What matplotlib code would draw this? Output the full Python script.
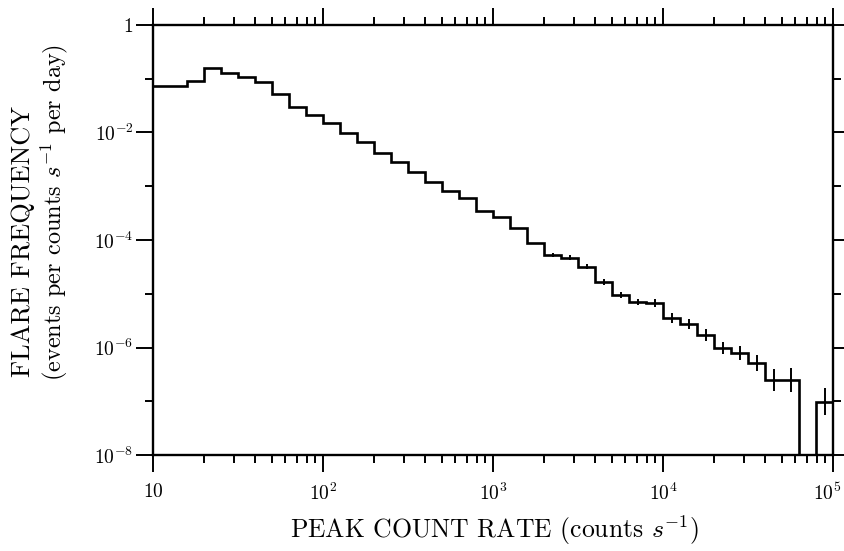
import numpy as np
import matplotlib
matplotlib.use("Agg")
import matplotlib.pyplot as plt
import matplotlib.transforms as mtransforms
from matplotlib.ticker import FixedLocator, NullFormatter

plt.rcParams['font.family'] = 'serif'
plt.rcParams['font.serif'] = ['cmr10', 'DejaVu Serif']
plt.rcParams['mathtext.fontset'] = 'cm'
plt.rcParams['axes.unicode_minus'] = False

# bin edges in log10(counts/s), 0.1 dex bins from 10 to 1e5
log_edges = np.linspace(1.0, 5.0, 41)

# flare frequency per bin (0 = empty bin)
freq = [7.3e-2, 7.3e-2, 9.1e-2, 1.58e-1, 1.29e-1, 1.07e-1, 8.7e-2, 5.25e-2,
        2.95e-2, 2.14e-2, 1.51e-2, 9.8e-3, 6.6e-3, 4.2e-3, 2.8e-3, 1.86e-3,
        1.2e-3, 8.1e-4, 6.0e-4, 3.5e-4, 2.7e-4, 1.66e-4, 8.7e-5, 5.2e-5,
        4.7e-5, 3.2e-5, 1.66e-5, 9.5e-6, 7.1e-6, 6.8e-6, 3.5e-6, 2.75e-6,
        1.7e-6, 9.8e-7, 7.9e-7, 5.1e-7, 2.5e-7, 2.5e-7, 0.0, 9.8e-8]

# error bar half length (dex) per bin, 0 = no visible bar
err_dex = [0, 0, 0, 0, 0, 0, 0, 0, 0, 0,
           0, 0, 0, 0, 0, 0, 0, 0, 0, 0,
           0, 0, 0, 0.04, 0.05, 0.05, 0.06, 0.06, 0.06, 0.07,
           0.09, 0.10, 0.11, 0.12, 0.13, 0.15, 0.20, 0.22, 0, 0.25]

x_major = [1e1, 1e2, 1e3, 1e4, 1e5]
x_labels = ['$\\mathbf{10}$', '$\\mathbf{10^2}$', '$\\mathbf{10^3}$',
            '$\\mathbf{10^4}$', '$\\mathbf{10^5}$']
y_major = [1e-8, 1e-6, 1e-4, 1e-2, 1]
y_labels = ['$\\mathbf{10^{-8}}$', '$\\mathbf{10^{-6}}$', '$\\mathbf{10^{-4}}$',
            '$\\mathbf{10^{-2}}$', '$\\mathbf{1}$']
y_minor = [1e-7, 1e-5, 1e-3, 1e-1]

edges = 10 ** log_edges
freq = np.array(freq)
err_dex = np.array(err_dex)
plot_freq = np.where(freq > 0, freq, 1e-12)

fig = plt.figure(figsize=(8.45, 5.51), dpi=100)
ax = fig.add_axes([0.181, 0.174, 0.805, 0.781])

ax.stairs(plot_freq, edges, color='black', lw=1.9, baseline=None)

centers = np.sqrt(edges[:-1] * edges[1:])
m = err_dex > 0
lo = freq[m] - freq[m] * 10 ** (-err_dex[m])
hi = freq[m] * 10 ** err_dex[m] - freq[m]
ax.errorbar(centers[m], freq[m], yerr=[lo, hi], fmt='none', ecolor='black',
            elinewidth=1.4, capsize=0)

ax.set_xscale('log')
ax.set_yscale('log')
ax.set_xlim(10, 1e5)
ax.set_ylim(1e-8, 1)

ax.set_xticks(x_major)
ax.set_xticklabels(x_labels)
ax.set_yticks(y_major)
ax.set_yticklabels(y_labels)
ax.yaxis.set_minor_locator(FixedLocator(y_minor))
ax.yaxis.set_minor_formatter(NullFormatter())
ax.xaxis.set_minor_formatter(NullFormatter())

ax.tick_params(which='both', direction='out', top=True, right=True,
               labeltop=False, labelright=False, width=1.4, labelsize=14)
ax.tick_params(which='major', length=12)
ax.tick_params(which='minor', length=6)
ax.tick_params(axis='x', pad=8)
ax.tick_params(axis='y', pad=2)
for s in ax.spines.values():
    s.set_linewidth(1.7)

# last x label sits at the right edge; nudge it so it stays in the picture
last = ax.get_xticklabels()[-1]
last.set_transform(last.get_transform() +
                   mtransforms.ScaledTranslation(-6 / 100, 0, fig.dpi_scale_trans))

fig.text(0.027, 0.561, 'FLARE FREQUENCY', rotation=90, ha='center',
         va='center', fontsize=19)
fig.text(0.064, 0.615, '(events per counts $s^{-1}$ per day)', rotation=90,
         ha='center', va='center', fontsize=17.5)
fig.text(0.585, 0.038, 'PEAK COUNT RATE (counts $s^{-1}$)', ha='center',
         va='center', fontsize=18.5)

fig.savefig('out.png', dpi=100)
